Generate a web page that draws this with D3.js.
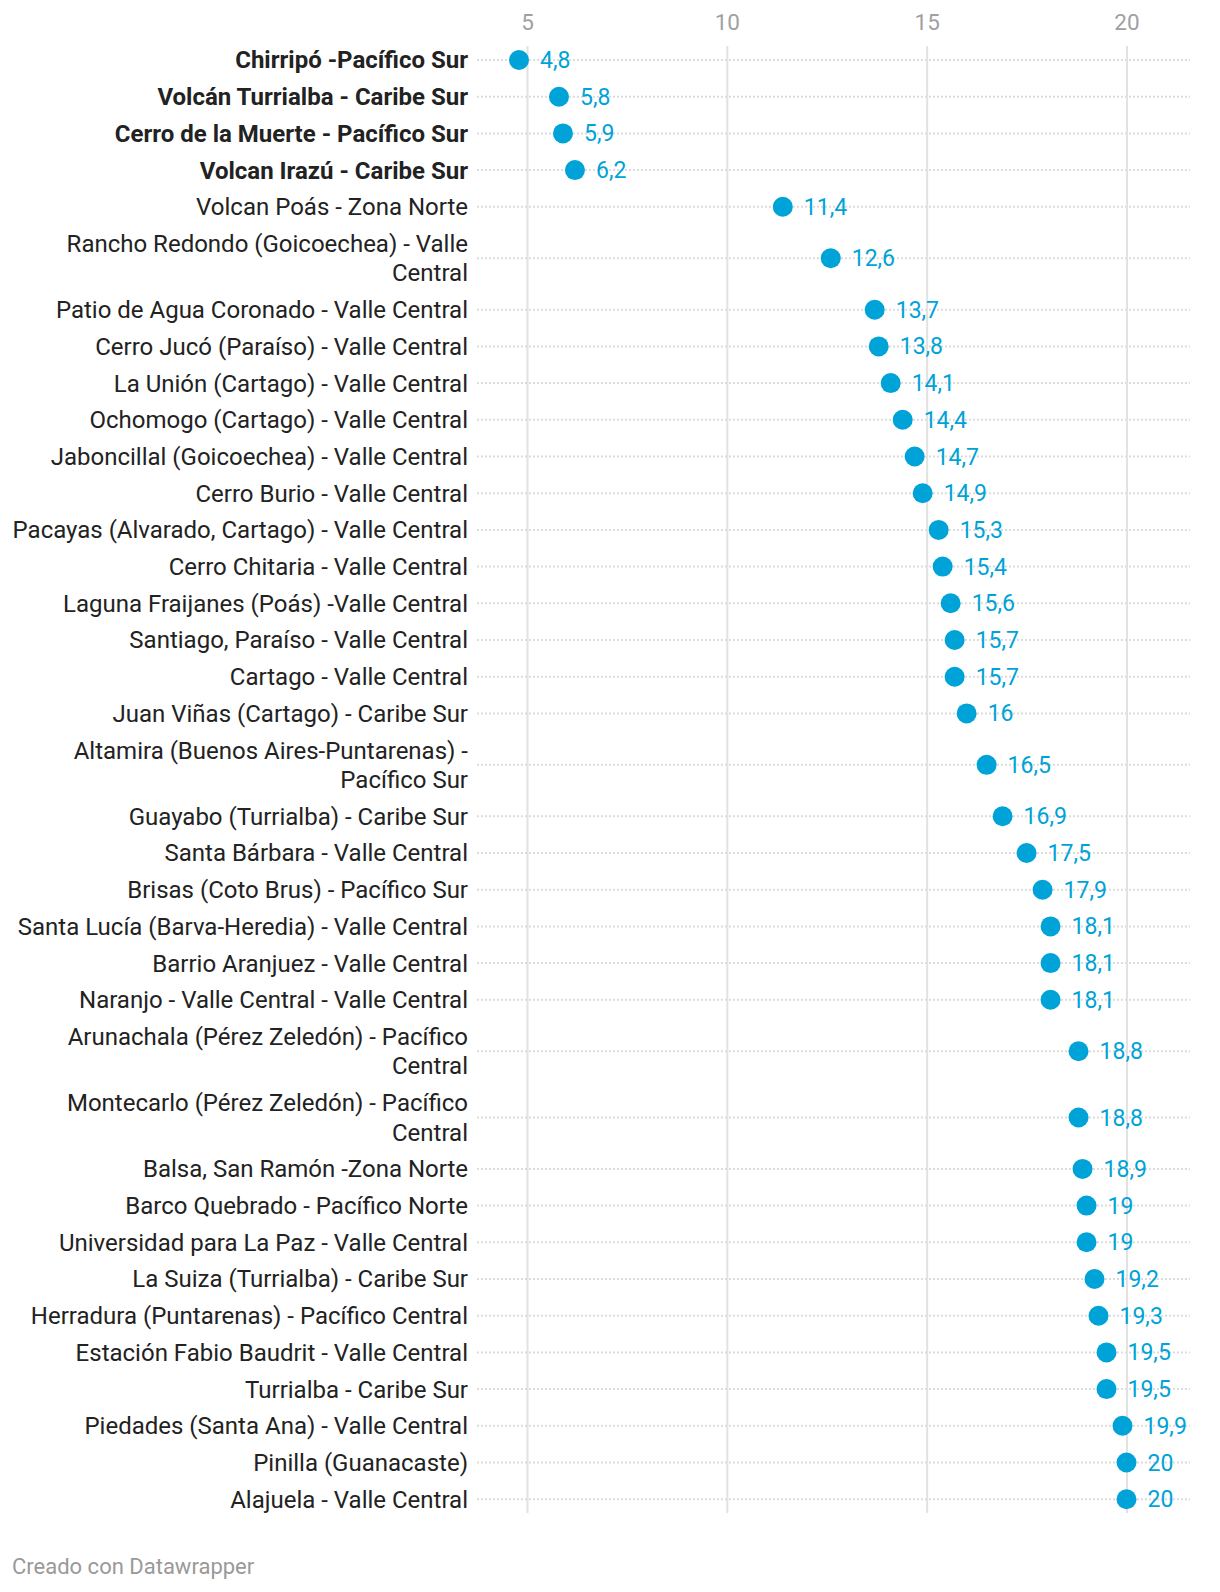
<!DOCTYPE html>
<html>
<head>
<meta charset="utf-8">
<script src="https://cdn.jsdelivr.net/npm/d3@7"></script>
<style>
  html, body { margin: 0; padding: 0; background: #fff; }
  svg { display: block; font-family: Roboto, "Noto Sans", sans-serif; }
</style>
</head>
<body>
<svg id="chart" width="1220" height="1592"></svg>
<script>
// ---- data ----
const categories = [
  "Chirripó -Pacífico Sur",
  "Volcán Turrialba - Caribe Sur",
  "Cerro de la Muerte - Pacífico Sur",
  "Volcan Irazú - Caribe Sur",
  "Volcan Poás - Zona Norte",
  "Rancho Redondo (Goicoechea) - Valle|Central",
  "Patio de Agua Coronado - Valle Central",
  "Cerro Jucó (Paraíso) - Valle Central",
  "La Unión (Cartago) - Valle Central",
  "Ochomogo (Cartago) - Valle Central",
  "Jaboncillal (Goicoechea) - Valle Central",
  "Cerro Burio - Valle Central",
  "Pacayas (Alvarado, Cartago) - Valle Central",
  "Cerro Chitaria - Valle Central",
  "Laguna Fraijanes (Poás) -Valle Central",
  "Santiago, Paraíso - Valle Central",
  "Cartago - Valle Central",
  "Juan Viñas (Cartago) - Caribe Sur",
  "Altamira (Buenos Aires-Puntarenas) -|Pacífico Sur",
  "Guayabo (Turrialba) - Caribe Sur",
  "Santa Bárbara - Valle Central",
  "Brisas (Coto Brus) - Pacífico Sur",
  "Santa Lucía (Barva-Heredia) - Valle Central",
  "Barrio Aranjuez - Valle Central",
  "Naranjo - Valle Central - Valle Central",
  "Arunachala (Pérez Zeledón) - Pacífico|Central",
  "Montecarlo (Pérez Zeledón) - Pacífico|Central",
  "Balsa, San Ramón -Zona Norte",
  "Barco Quebrado - Pacífico Norte",
  "Universidad para La Paz - Valle Central",
  "La Suiza (Turrialba) - Caribe Sur",
  "Herradura (Puntarenas) - Pacífico Central",
  "Estación Fabio Baudrit - Valle Central",
  "Turrialba - Caribe Sur",
  "Piedades (Santa Ana) - Valle Central",
  "Pinilla (Guanacaste)",
  "Alajuela - Valle Central"
];
const values = [
  4.8, 5.8, 5.9, 6.2, 11.4, 12.6, 13.7, 13.8, 14.1, 14.4, 14.7, 14.9, 15.3,
  15.4, 15.6, 15.7, 15.7, 16, 16.5, 16.9, 17.5, 17.9, 18.1, 18.1, 18.1,
  18.8, 18.8, 18.9, 19, 19, 19.2, 19.3, 19.5, 19.5, 19.9, 20, 20
];
const boldCategories = [
  "Chirripó -Pacífico Sur",
  "Volcán Turrialba - Caribe Sur",
  "Cerro de la Muerte - Pacífico Sur",
  "Volcan Irazú - Caribe Sur"
];
const tickValues = [5, 10, 15, 20];
const footerText = "Creado con Datawrapper";

// ---- layout ----
const plotLeft = 477, plotRight = 1190;
const gridTop = 46, gridBottom = 1513;
const firstCenter = 60;
const singleH = 36.7, lineH = 29.5;
const labelRight = 468;
const blue = "#00a3d7";

const data = categories.map((c, i) => ({ cat: c, lines: c.split("|"), value: values[i] }));

// row centers from label line counts
let acc = firstCenter - singleH / 2;
const centers = data.map(d => {
  const h = singleH + (d.lines.length - 1) * lineH;
  const c = acc + h / 2;
  acc += h;
  return c;
});
const y = d3.scaleOrdinal().domain(categories).range(centers);
const x = d3.scaleLinear().domain([5, 20]).range([527, 1126.5]);

const locale = d3.formatLocale({ decimal: ",", thousands: ".", grouping: [3], currency: ["", ""] });
const fmt = v => locale.format(",")(v);

const svg = d3.select("#chart");

// horizontal dotted row lines
svg.append("g").selectAll("line").data(data).join("line")
  .attr("x1", plotLeft).attr("x2", plotRight)
  .attr("y1", d => y(d.cat)).attr("y2", d => y(d.cat))
  .attr("stroke", "#dcdcdc").attr("stroke-width", 2)
  .attr("stroke-dasharray", "2,2");

// axis with vertical gridlines
const axis = d3.axisTop(x).tickValues(tickValues).tickFormat(d => fmt(d))
  .tickSizeInner(-(gridBottom - gridTop)).tickSizeOuter(0).tickPadding(16);
const gAxis = svg.append("g").attr("transform", `translate(0,${gridTop})`).call(axis);
gAxis.select(".domain").remove();
gAxis.selectAll(".tick line").attr("stroke", "#e2e2e2").attr("stroke-width", 2);
gAxis.selectAll(".tick text").attr("fill", "#a0a0a0")
  .attr("font-size", 22.5).attr("font-family", "Roboto");

// category labels
const labels = svg.append("g").selectAll("text").data(data).join("text")
  .attr("x", labelRight)
  .attr("text-anchor", "end")
  .attr("font-size", 24)
  .attr("fill", "#222")
  .attr("font-weight", d => boldCategories.includes(d.cat) ? 700 : 400);
labels.each(function(d) {
  const n = d.lines.length;
  const c = y(d.cat);
  d3.select(this).selectAll("tspan").data(d.lines).join("tspan")
    .attr("x", labelRight)
    .attr("y", (l, i) => c + (i - (n - 1) / 2) * lineH)
    .attr("dy", "0.35em")
    .text(l => l);
});

// dots
svg.append("g").selectAll("circle").data(data).join("circle")
  .attr("cx", d => x(d.value)).attr("cy", d => y(d.cat))
  .attr("r", 10).attr("fill", blue);

// value labels
svg.append("g").selectAll("text").data(data).join("text")
  .attr("x", d => x(d.value) + 21).attr("y", d => y(d.cat))
  .attr("dy", "0.35em")
  .attr("font-size", 23)
  .attr("fill", blue)
  .text(d => fmt(d.value));

// footer
svg.append("text").attr("x", 12).attr("y", 1566).attr("dy", "0.35em")
  .attr("font-size", 22).attr("fill", "#999").text(footerText);
</script>
</body>
</html>
